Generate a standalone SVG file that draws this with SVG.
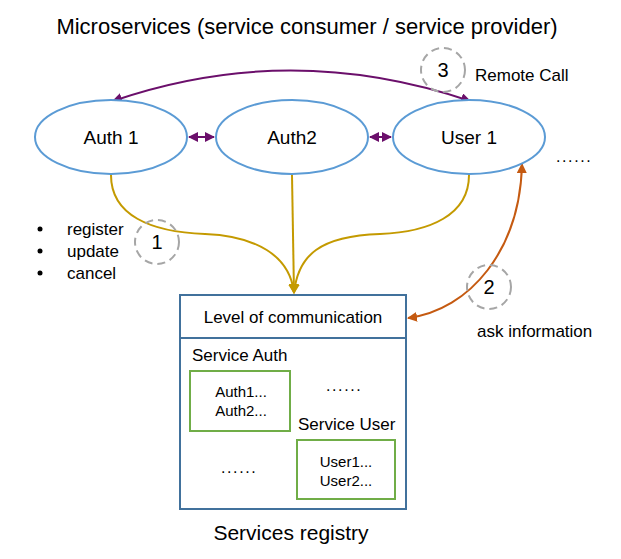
<svg xmlns="http://www.w3.org/2000/svg" width="621" height="559" viewBox="0 0 621 559">
<style>
text{font-family:"Liberation Sans","Noto Sans",sans-serif;fill:#000}
.node{fill:#fff;stroke:#5B9BD5;stroke-width:2}
.nl{font-size:19px;text-anchor:middle}
.badge{fill:none;stroke:#A6A6A6;stroke-width:2;stroke-dasharray:8 5}
.bn{font-size:20px;text-anchor:middle}
.purple{fill:none;stroke:#6B0F6B;stroke-width:2}
.gold{fill:none;stroke:#C49A00;stroke-width:2}
.orange{fill:none;stroke:#C55A11;stroke-width:2}
.reg{fill:#fff;stroke:#41719C;stroke-width:2}
.grp{fill:#fff;stroke:#70AD47;stroke-width:2}
.sm{font-size:15px;text-anchor:middle}
.lb{font-size:17px}
.dots{font-size:16px;letter-spacing:1.6px}
</style>
<defs>
<marker id="ap" viewBox="0 0 10 10" refX="9" refY="5" markerWidth="5" markerHeight="5" orient="auto-start-reverse"><path d="M0,0L10,5L0,10z" fill="#6B0F6B"/></marker>
<marker id="ag" viewBox="0 0 10 10" refX="9" refY="5" markerWidth="5" markerHeight="5" orient="auto"><path d="M0,0L10,5L0,10z" fill="#C49A00"/></marker>
<marker id="ao" viewBox="0 0 10 10" refX="9" refY="5" markerWidth="5" markerHeight="5" orient="auto-start-reverse"><path d="M0,0L10,5L0,10z" fill="#C55A11"/></marker>
</defs>
<rect width="621" height="559" fill="#fff"/>
<text x="307" y="34" font-size="22" text-anchor="middle">Microservices (service consumer / service provider)</text>

<g id="connectors">
<path class="purple" d="M113,101 Q290,40 470,101" marker-start="url(#ap)" marker-end="url(#ap)"/>
<path class="purple" d="M189,137 L214,137" marker-start="url(#ap)" marker-end="url(#ap)"/>
<path class="purple" d="M370,137 L391,137" marker-start="url(#ap)" marker-end="url(#ap)"/>
<path class="gold" d="M111,175 C111,215 150,232 205,234 C255,236 290,255 294,293" marker-end="url(#ag)"/>
<path class="gold" d="M292,175 L294,293" marker-end="url(#ag)"/>
<path class="gold" d="M469,175 C469,215 430,232 380,234 C320,236 298,255 294,293" marker-end="url(#ag)"/>
<path class="orange" d="M408,318 C470,310 520,250 522,164" marker-start="url(#ao)" marker-end="url(#ao)"/>
</g>

<g id="auth1"><ellipse class="node" cx="111" cy="137" rx="76" ry="37"/><text class="nl" x="111" y="144">Auth 1</text></g>
<g id="auth2"><ellipse class="node" cx="292" cy="137" rx="76" ry="37"/><text class="nl" x="292" y="144">Auth2</text></g>
<g id="user1"><ellipse class="node" cx="469" cy="137" rx="76" ry="37"/><text class="nl" x="469" y="144">User 1</text></g>
<text class="dots" x="556" y="162">......</text>

<g id="badge3"><circle class="badge" cx="443" cy="70" r="22"/><text class="bn" x="443" y="77">3</text></g>
<text class="lb" x="475" y="81">Remote Call</text>

<g id="badge1"><circle class="badge" cx="157" cy="242" r="22"/><text class="bn" x="157" y="249">1</text></g>
<g id="bullets">
<circle cx="40" cy="229" r="2.5"/><text class="lb" x="67" y="235">register</text>
<circle cx="40" cy="251" r="2.5"/><text class="lb" x="67" y="257">update</text>
<circle cx="40" cy="273" r="2.5"/><text class="lb" x="67" y="279">cancel</text>
</g>

<g id="badge2"><circle class="badge" cx="489" cy="287" r="22"/><text class="bn" x="489" y="294">2</text></g>
<text class="lb" x="477" y="337">ask information</text>

<g id="registry">
<rect class="reg" x="180" y="295" width="226" height="214"/>
<line x1="180" y1="338" x2="406" y2="338" stroke="#41719C" stroke-width="2"/>
<text class="lb" x="293" y="323" text-anchor="middle">Level of communication</text>
<text class="lb" x="192" y="361">Service Auth</text>
<rect class="grp" x="190" y="371" width="100" height="60"/>
<text class="sm" x="241" y="397">Auth1...</text>
<text class="sm" x="241" y="416">Auth2...</text>
<text class="dots" x="326" y="391">......</text>
<text class="lb" x="298" y="430">Service User</text>
<rect class="grp" x="297" y="440" width="98" height="59"/>
<text class="sm" x="346" y="467">User1...</text>
<text class="sm" x="346" y="486">User2...</text>
<text class="dots" x="221" y="473">......</text>
</g>
<text x="291" y="540" font-size="21" text-anchor="middle">Services registry</text>
</svg>
